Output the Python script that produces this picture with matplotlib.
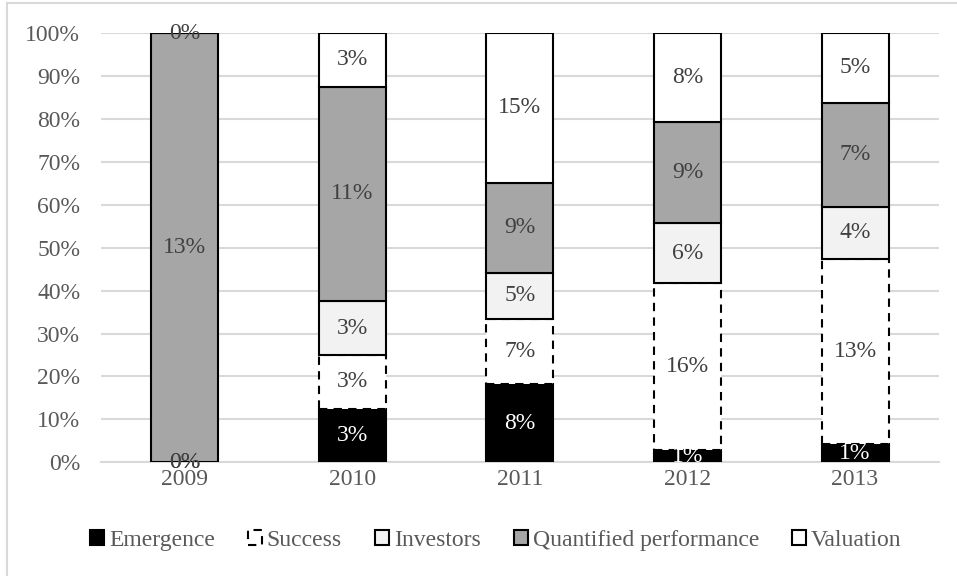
import matplotlib
matplotlib.use("Agg")
import matplotlib.pyplot as plt
from matplotlib.patches import Patch
from matplotlib.lines import Line2D
import numpy as np

# Raw shares per year (labels show these values), bars are normalised to 100%
years = ["2009", "2010", "2011", "2012", "2013"]
series_names = ["Emergence", "Success", "Investors", "Quantified performance", "Valuation"]
emergence = [0.0, 2.75, 7.8, 1.15, 1.26]
success = [0.0, 2.75, 6.6, 15.6, 12.96]
investors = [0.0, 2.75, 4.6, 5.6, 3.63]
quantified = [13.0, 11.0, 9.0, 9.45, 7.26]
valuation = [0.0, 2.75, 15.0, 8.3, 4.89]

face_colors = ["#000000", "#ffffff", "#f2f2f2", "#a6a6a6", "#ffffff"]
line_styles = ["solid", (0, (4, 3)), "solid", "solid", "solid"]
label_colors = ["#ffffff", "#404040", "#404040", "#404040", "#404040"]

plt.rcParams["font.family"] = ["Liberation Serif", "DejaVu Serif"]

fig = plt.figure(figsize=(9.57, 5.76), dpi=100)
ax = fig.add_axes([0.1055, 0.1974, 0.8755, 0.7453])

data = np.array([emergence, success, investors, quantified, valuation])
totals = data.sum(axis=0)
pct = data / totals * 100

x = np.arange(len(years))
bottom = np.zeros(len(years))
for i, name in enumerate(series_names):
    ax.bar(x, pct[i], 0.4, bottom=bottom, color=face_colors[i],
           edgecolor="black", linewidth=1.5, linestyle=line_styles[i],
           label=name, zorder=3)
    for j in range(len(years)):
        ax.text(x[j], bottom[j] + pct[i][j] / 2, f"{data[i][j]:.0f}%",
                ha="center", va="center", fontsize=17, color=label_colors[i], zorder=4)
    bottom += pct[i]

ax.set_xlim(-0.5, len(years) - 0.5)
ax.set_ylim(0, 100)
ax.set_yticks(np.arange(0, 101, 10))
ax.set_yticklabels([f"{v}%" for v in range(0, 101, 10)])
ax.set_xticks(x)
ax.set_xticklabels(years)
ax.tick_params(axis="both", length=0, labelsize=17, labelcolor="#595959")
ax.tick_params(axis="y", pad=15)
ax.tick_params(axis="x", pad=5)
ax.grid(True, axis="y", color="#d9d9d9", linewidth=1.5, zorder=0)
for s in ["top", "right", "left"]:
    ax.spines[s].set_visible(False)
ax.spines["bottom"].set_color("#d9d9d9")
ax.spines["bottom"].set_linewidth(1.5)

handles = [Patch(facecolor=face_colors[i], edgecolor="black", linewidth=1.5,
                 linestyle=line_styles[i], label=series_names[i]) for i in range(5)]
fig.legend(handles=handles, loc="center", bbox_to_anchor=(0.518, 0.0615), ncol=5,
           frameon=False, fontsize=17, handlelength=0.6, handleheight=0.6,
           handletextpad=0.2, columnspacing=1.4, labelcolor="#595959")

# light chart-area border (left and top edges visible)
fig.add_artist(Line2D([7 / 957, 7 / 957], [0, 1 - 3 / 576], color="#d9d9d9", linewidth=1.5))
fig.add_artist(Line2D([7 / 957, 1], [1 - 3 / 576, 1 - 3 / 576], color="#d9d9d9", linewidth=1.5))

fig.savefig("out.png", dpi=100)
